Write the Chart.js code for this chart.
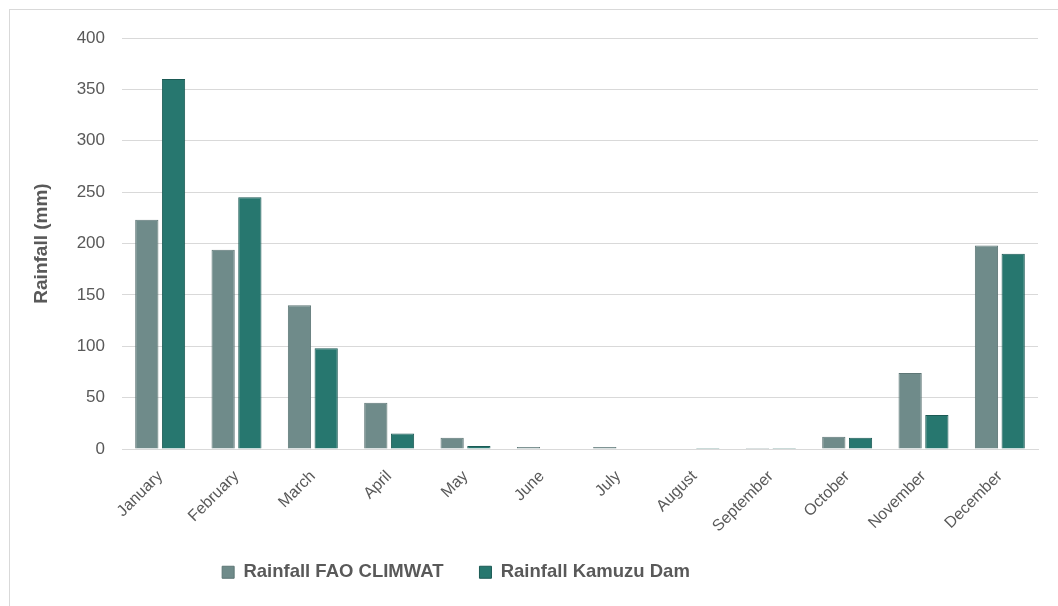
<!DOCTYPE html>
<html>
<head>
<meta charset="utf-8">
<script src="https://cdn.jsdelivr.net/npm/chart.js@4"></script>
<style>
  html, body { margin: 0; padding: 0; background: #fff; overflow: hidden; }
  #frame {
    position: absolute; left: 9px; top: 9px;
    width: 1200px; height: 800px;
    border: 1px solid #d9d9d9;
  }
  #wrap { position: absolute; left: 0; top: 0; width: 1058px; height: 606px; }
</style>
</head>
<body>
<div id="frame"></div>
<div id="wrap"><canvas id="chart"></canvas></div>
<script>
// rainfall per month
const months = ["January", "February", "March", "April", "May", "June",
  "July", "August", "September", "October", "November", "December"];
const faoClimwat = [223, 194, 140, 45, 11, 2, 2, 0.5, 1, 12, 74, 198];
const kamuzuDam = [360, 245, 98, 15, 3, 0, 0, 1, 1, 11, 33, 190];
const yTicks = [0, 50, 100, 150, 200, 250, 300, 350, 400];

const grey = "#595959";

// put the legend row where the original has it (a bit left and up)
const legendShift = {
  id: "legendShift",
  afterLayout(chart) {
    const lg = chart.legend;
    const h = lg.height;
    lg.left = 3;
    lg.right = 909;
    lg.top = 527;
    lg.bottom = 527 + h;
  }
};

new Chart(document.getElementById("chart"), {
  type: "bar",
  data: {
    labels: months,
    datasets: [
      {
        label: "Rainfall FAO CLIMWAT",
        data: faoClimwat,
        backgroundColor: "#6f8b8a",
        borderColor: "#5d7675",
        borderWidth: 1
      },
      {
        label: "Rainfall Kamuzu Dam",
        data: kamuzuDam,
        backgroundColor: "#27776f",
        borderColor: "#1c5a55",
        borderWidth: 1
      }
    ]
  },
  plugins: [legendShift],
  options: {
    responsive: true,
    maintainAspectRatio: false,
    animation: false,
    layout: { padding: { left: 0, top: 38, right: 20, bottom: 2.5 } },
    datasets: {
      bar: { categoryPercentage: 0.7, barPercentage: 0.87 }
    },
    plugins: {
      tooltip: { enabled: false },
      legend: {
        position: "bottom",
        labels: {
          color: grey,
          boxWidth: 12,
          boxHeight: 12,
          padding: 36,
          font: { family: "Liberation Sans, Arial, sans-serif", size: 18.5, weight: "bold" }
        }
      }
    },
    scales: {
      x: {
        grid: { display: false },
        border: { display: true, color: "#d9d9d9", width: 1 },
        ticks: {
          color: grey,
          minRotation: 45,
          maxRotation: 45,
          padding: 10,
          font: { family: "Liberation Sans, Arial, sans-serif", size: 16 }
        },
        afterFit(scale) { scale.height = 90; }
      },
      y: {
        min: 0,
        max: 400,
        afterBuildTicks(scale) { scale.ticks = yTicks.map(v => ({ value: v })); },
        grid: { color: "#d9d9d9", lineWidth: 1, drawTicks: false },
        border: { display: false },
        ticks: {
          color: grey,
          padding: 17,
          font: { family: "Liberation Sans, Arial, sans-serif", size: 17 }
        },
        title: {
          display: true,
          text: "Rainfall (mm)",
          color: grey,
          padding: { top: 30 },
          font: { family: "Liberation Sans, Arial, sans-serif", size: 19, weight: "bold" }
        },
        afterFit(scale) { scale.width = 122; }
      }
    }
  }
});
</script>
</body>
</html>
